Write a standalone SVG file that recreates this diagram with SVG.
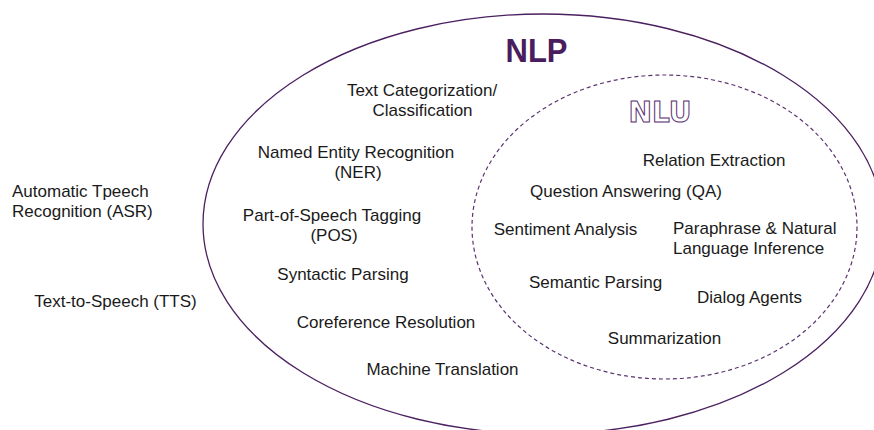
<svg xmlns="http://www.w3.org/2000/svg" width="874" height="430" viewBox="0 0 874 430">
<style>
.t{font-family:"Liberation Sans",Arial,sans-serif;font-size:17px;fill:#1a1a1a}
.c{text-anchor:middle}
.outer{fill:none;stroke:#4b2060;stroke-width:1.3}
.inner{fill:none;stroke:#5a3470;stroke-width:1.2;stroke-dasharray:4 3}
</style>
<rect width="874" height="430" fill="#ffffff"/>
<g id="nlp">
<ellipse class="outer" cx="543" cy="224" rx="340" ry="210"/>
<text x="536.5" y="62" text-anchor="middle" textLength="62" lengthAdjust="spacingAndGlyphs" style="font-family:'Liberation Sans',Arial,sans-serif;font-weight:bold;font-size:33px;fill:#4a1d5e">NLP</text>
</g>
<g id="nlu">
<ellipse class="inner" cx="664.5" cy="227" rx="192.5" ry="152"/>
<text x="660" y="122" text-anchor="middle" style="font-family:'DejaVu Sans',sans-serif;font-weight:bold;font-size:28px;fill:#ffffff;stroke:#5a2d72;stroke-width:1">NLU</text>
</g>
<g id="asr"><text class="t" x="12" y="197">Automatic Tpeech</text><text class="t" x="12" y="217">Recognition (ASR)</text></g>
<g id="tts"><text class="t c" x="115.5" y="307">Text-to-Speech (TTS)</text></g>
<g id="text-categorization"><text class="t c" x="422" y="96">Text Categorization/</text><text class="t c" x="422.5" y="116">Classification</text></g>
<g id="ner"><text class="t c" x="356" y="158">Named Entity Recognition</text><text class="t c" x="358" y="178">(NER)</text></g>
<g id="pos"><text class="t c" x="332" y="221">Part-of-Speech Tagging</text><text class="t c" x="334" y="241">(POS)</text></g>
<g id="syntactic-parsing"><text class="t c" x="343" y="280">Syntactic Parsing</text></g>
<g id="coreference"><text class="t c" x="386" y="328">Coreference Resolution</text></g>
<g id="machine-translation"><text class="t c" x="442.5" y="375">Machine Translation</text></g>
<g id="relation-extraction"><text class="t c" x="714" y="166">Relation Extraction</text></g>
<g id="qa"><text class="t c" x="626" y="197">Question Answering (QA)</text></g>
<g id="sentiment"><text class="t c" x="565.5" y="235">Sentiment Analysis</text></g>
<g id="paraphrase"><text class="t" x="673" y="234">Paraphrase &amp; Natural</text><text class="t" x="673" y="254">Language Inference</text></g>
<g id="semantic-parsing"><text class="t c" x="595.5" y="288">Semantic Parsing</text></g>
<g id="dialog-agents"><text class="t c" x="749.5" y="303">Dialog Agents</text></g>
<g id="summarization"><text class="t c" x="664.5" y="344">Summarization</text></g>
<g id="connectors"></g>
</svg>
